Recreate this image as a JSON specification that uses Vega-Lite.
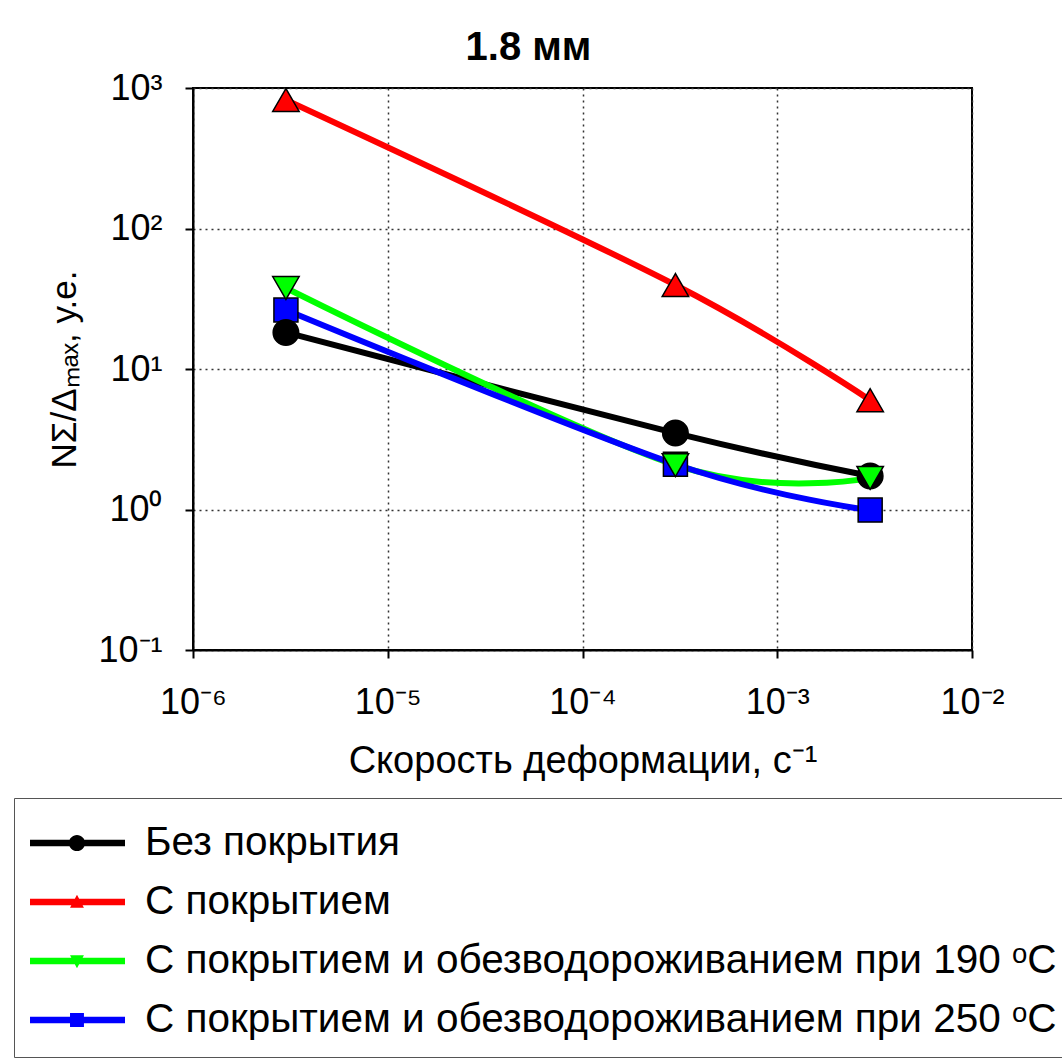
{
  "$schema": "https://vega.github.io/schema/vega-lite/v6.json",
  "width": 779,
  "height": 562,
  "autosize": "none",
  "padding": {"left": 193, "top": 88, "right": 90, "bottom": 413},
  "background": "white",
  "title": {"text": "1.8 мм", "fontSize": 40, "font": "Liberation Sans", "fontWeight": "bold", "color": "black", "dx": -54, "offset": 2, "anchor": "middle"},
  "data": {
    "values": [
      {"s": "Без покрытия", "x": 3e-6, "y": 18.2},
      {"s": "Без покрытия", "x": 3e-4, "y": 3.5},
      {"s": "Без покрытия", "x": 3e-3, "y": 1.73},
      {"s": "С покрытием", "x": 3e-6, "y": 822},
      {"s": "С покрытием", "x": 3e-4, "y": 39.6},
      {"s": "С покрытием", "x": 3e-3, "y": 6.0},
      {"s": "С покрытием и обезводороживанием при 190 ᵒC", "x": 3e-6, "y": 37.7},
      {"s": "С покрытием и обезводороживанием при 190 ᵒC", "x": 3e-4, "y": 2.07},
      {"s": "С покрытием и обезводороживанием при 190 ᵒC", "x": 3e-3, "y": 1.68},
      {"s": "С покрытием и обезводороживанием при 250 ᵒC", "x": 3e-6, "y": 26.3},
      {"s": "С покрытием и обезводороживанием при 250 ᵒC", "x": 3e-4, "y": 2.1},
      {"s": "С покрытием и обезводороживанием при 250 ᵒC", "x": 3e-3, "y": 0.99}
    ]
  },
  "encoding": {
    "x": {
      "field": "x", "type": "quantitative",
      "scale": {"type": "log", "domain": [1e-6, 1e-2], "nice": false},
      "axis": {
        "values": [1e-6, 1e-5, 1e-4, 1e-3, 1e-2],
        "labelExpr": "'10' + (datum.value < 1 ? '⁻' : '') + substring('⁰¹²³⁴⁵⁶⁷⁸⁹', abs(round(log(datum.value)/LN10)), abs(round(log(datum.value)/LN10)) + 1)",
        "labelBaseline": "alphabetic",
        "labelPadding": 55,
        "labelFlush": false,
        "labelOverlap": false,
        "title": "Скорость деформации, с⁻¹",
        "titleFontSize": 38,
        "titleBaseline": "alphabetic",
        "titleY": 122
      }
    },
    "y": {
      "field": "y", "type": "quantitative",
      "scale": {"type": "log", "domain": [0.1, 1000], "nice": false},
      "axis": {
        "values": [0.1, 1, 10, 100, 1000],
        "labelExpr": "'10' + (datum.value < 1 ? '⁻' : '') + substring('⁰¹²³⁴⁵⁶⁷⁸⁹', abs(round(log(datum.value)/LN10)), abs(round(log(datum.value)/LN10)) + 1)",
        "labelBaseline": "middle",
        "labelPadding": 23,
        "labelFlush": false,
        "labelOverlap": false,
        "title": "NΣ/Δₘₐₓ, у.е.",
        "titleFontSize": 35,
        "titleBaseline": "alphabetic",
        "titleX": -118
      }
    }
  },
  "layer": [
    {"transform": [{"filter": {"field": "s", "equal": "Без покрытия"}}],
     "mark": {"type": "line", "interpolate": "cardinal", "strokeWidth": 6, "color": "#000000"}},
    {"transform": [{"filter": {"field": "s", "equal": "С покрытием"}}],
     "mark": {"type": "line", "interpolate": "cardinal", "strokeWidth": 6, "color": "#ff0000"}},
    {"transform": [{"filter": {"field": "s", "equal": "С покрытием и обезводороживанием при 190 ᵒC"}}],
     "mark": {"type": "line", "interpolate": "cardinal", "strokeWidth": 6, "color": "#00ff00"}},
    {"transform": [{"filter": {"field": "s", "equal": "С покрытием и обезводороживанием при 250 ᵒC"}}],
     "mark": {"type": "line", "interpolate": "cardinal", "strokeWidth": 6, "color": "#0000ff"}},
    {"transform": [{"filter": {"field": "s", "equal": "С покрытием и обезводороживанием при 250 ᵒC"}}],
     "mark": {"type": "point", "shape": "square", "filled": true, "fill": "#0000ff", "size": 576, "stroke": "black", "strokeWidth": 1.5, "opacity": 1}},
    {"transform": [{"filter": {"field": "s", "equal": "Без покрытия"}}],
     "mark": {"type": "point", "shape": "circle", "filled": true, "fill": "#000000", "size": 650, "stroke": "black", "strokeWidth": 1.5, "opacity": 1}},
    {"transform": [{"filter": {"field": "s", "equal": "С покрытием"}}],
     "mark": {"type": "point", "shape": "triangle-up", "filled": true, "fill": "#ff0000", "size": 700, "stroke": "black", "strokeWidth": 1.5, "opacity": 1}},
    {"transform": [{"filter": {"field": "s", "equal": "С покрытием и обезводороживанием при 190 ᵒC"}}],
     "mark": {"type": "point", "shape": "triangle-down", "filled": true, "fill": "#00ff00", "size": 700, "stroke": "black", "strokeWidth": 1.5, "opacity": 1}},
    {"transform": [{"filter": "datum.y < 0"}],
     "mark": {"type": "point", "filled": true, "opacity": 1, "strokeWidth": 0},
     "encoding": {
       "color": {
         "field": "s", "type": "nominal",
         "scale": {
           "domain": ["Без покрытия", "С покрытием", "С покрытием и обезводороживанием при 190 ᵒC", "С покрытием и обезводороживанием при 250 ᵒC"],
           "range": ["#000000", "#ff0000", "#00ff00", "#0000ff"]
         },
         "legend": {"title": null, "orient": "none", "legendX": -179, "legendY": 710, "direction": "vertical"}
       },
       "shape": {
         "field": "s", "type": "nominal",
         "scale": {
           "domain": ["Без покрытия", "С покрытием", "С покрытием и обезводороживанием при 190 ᵒC", "С покрытием и обезводороживанием при 250 ᵒC"],
           "range": [
             "M-1,-0.114H2.276V0.114H-1Z M0.34,0A0.28,0.28 0 1,1 0.9,0A0.28,0.28 0 1,1 0.34,0Z",
             "M-1,-0.114H2.276V0.114H-1Z M0.62,-0.25L0.86,0.2L0.38,0.2Z",
             "M-1,-0.114H2.276V0.114H-1Z M0.38,-0.2L0.86,-0.2L0.62,0.25Z",
             "M-1,-0.114H2.276V0.114H-1Z M0.38,-0.24H0.86V0.24H0.38Z"
           ]
         },
         "legend": {"title": null, "orient": "none", "legendX": -179, "legendY": 710, "direction": "vertical"}
       }
     }
    }
  ],
  "config": {
    "font": "Liberation Sans",
    "view": {"stroke": "black", "strokeWidth": 2},
    "legend": {
      "padding": 16,
      "symbolSize": 3364,
      "symbolStrokeWidth": 0,
      "symbolOpacity": 1,
      "labelOffset": 57,
      "labelFontSize": 40.5,
      "labelFont": "Liberation Sans",
      "labelColor": "black",
      "labelLimit": 2000,
      "rowPadding": 9,
      "strokeColor": "#555555",
      "fillColor": "white"
    },
    "axis": {
      "domainColor": "black",
      "domainWidth": 2,
      "tickColor": "black",
      "tickWidth": 2,
      "tickSize": 8,
      "grid": true,
      "gridColor": "#333333",
      "gridDash": [2, 4],
      "gridWidth": 1.5,
      "gridOpacity": 1,
      "labelFont": "Liberation Sans",
      "labelFontSize": 36,
      "labelColor": "black",
      "titleFont": "Liberation Sans",
      "titleFontWeight": "normal",
      "titleColor": "black"
    }
  }
}
